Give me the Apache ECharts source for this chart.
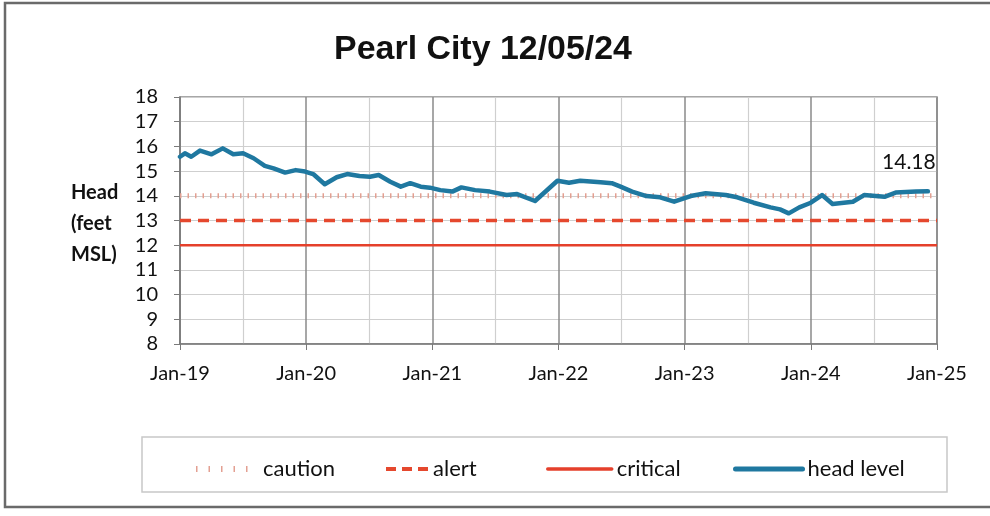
<!DOCTYPE html>
<html>
<head>
<meta charset="utf-8">
<script src="https://cdn.jsdelivr.net/npm/echarts@6/dist/echarts.min.js"></script>
<style>
  html, body { margin: 0; padding: 0; background: #fff; }
  #main { width: 990px; height: 516px; }
</style>
</head>
<body>
<div id="main"></div>
<script>
var dom = document.getElementById("main");
var chart = echarts.init(dom);

// readings taken off the scanned chart
var dates = [
  "2019-01-01", "2019-01-15", "2019-02-03", "2019-02-28", "2019-04-01", "2019-05-03",
  "2019-06-03", "2019-07-01", "2019-08-01", "2019-09-03", "2019-09-28", "2019-11-01",
  "2019-12-01", "2019-12-28", "2020-01-21", "2020-02-24", "2020-03-28", "2020-04-28",
  "2020-06-03", "2020-07-03", "2020-07-28", "2020-09-01", "2020-10-01", "2020-10-28",
  "2020-11-28", "2020-12-24", "2021-01-24", "2021-02-28", "2021-03-24", "2021-05-03",
  "2021-06-15", "2021-08-03", "2021-09-03", "2021-10-24", "2021-12-28", "2022-02-01",
  "2022-03-03", "2022-05-01", "2022-06-03", "2022-06-28", "2022-08-01", "2022-09-12",
  "2022-10-21", "2022-12-01", "2023-01-18", "2023-03-01", "2023-04-28", "2023-06-01",
  "2023-07-18", "2023-09-06", "2023-10-03", "2023-10-28", "2023-11-28", "2024-01-01",
  "2024-02-03", "2024-03-03", "2024-05-01", "2024-06-03", "2024-08-01", "2024-09-03",
  "2024-11-01", "2024-12-05"
];
var headLevel = [
  15.58, 15.72, 15.58, 15.83, 15.68, 15.92,
  15.68, 15.72, 15.52, 15.21, 15.11, 14.94,
  15.04, 14.98, 14.88, 14.47, 14.75, 14.88,
  14.80, 14.77, 14.84, 14.57, 14.37, 14.51,
  14.37, 14.33, 14.23, 14.17, 14.34, 14.23,
  14.17, 14.03, 14.07, 13.79, 14.61, 14.53,
  14.61, 14.55, 14.51, 14.37, 14.17, 13.99,
  13.94, 13.76, 13.99, 14.10, 14.03, 13.94,
  13.72, 13.53, 13.45, 13.29, 13.53, 13.72,
  14.03, 13.67, 13.76, 14.03, 13.96, 14.13,
  14.17, 14.18
];
var cautionLevel = 14;
var alertLevel = 13;
var criticalLevel = 12;
var yearLabels = ["Jan-19", "Jan-20", "Jan-21", "Jan-22", "Jan-23", "Jan-24", "Jan-25"];

// months since Jan 2019, so the x axis can tick every year / half year
function toMonths(s) {
  var p = s.split("-");
  return (Number(p[0]) - 2019) * 12 + (Number(p[1]) - 1) + (Number(p[2]) - 1) / 30;
}

var headData = dates.map(function (d, i) {
  return [toMonths(d), headLevel[i]];
});

function flat(v) {
  return [[0, v], [72, v]];
}

var font = "Lato";

// one legend per entry so each sits where the original put it
var legendSpec = [
  { name: "caution", left: 188, w: 62, lw: 6, type: [1.5, 11], cap: "butt" },
  { name: "alert", left: 379, w: 42, lw: 4, type: [10, 6], cap: "butt" },
  { name: "critical", left: 541, w: 64, lw: 3.5, type: "solid", cap: "round" },
  { name: "head level", left: 728, w: 67, lw: 5, type: "solid", cap: "round" }
];
var legends = legendSpec.map(function (s) {
  return {
    data: [s.name],
    left: s.left,
    top: 453,
    itemWidth: s.w,
    itemHeight: 14,
    itemGap: 4,
    itemStyle: { opacity: 0 },
    lineStyle: { width: s.lw, type: s.type, cap: s.cap },
    textStyle: { fontFamily: font, fontSize: 22, color: "#111" }
  };
});

chart.setOption({
  animation: false,
  grid: {
    left: 180,
    right: 53,
    top: 97,
    bottom: 172,
    show: true,
    borderColor: "#8a8a8a",
    borderWidth: 1.5
  },
  xAxis: {
    type: "value",
    min: 0,
    max: 72,
    interval: 12,
    axisLine: { lineStyle: { color: "#7a7a7a", width: 1.5 } },
    axisTick: { show: true, length: 6, lineStyle: { color: "#7a7a7a" } },
    axisLabel: {
      margin: 20,
      fontFamily: font,
      fontSize: 20,
      color: "#111",
      formatter: function (v) { return yearLabels[v / 12]; }
    },
    splitLine: { show: true, lineStyle: { color: "#8a8a8a", width: 1.5 } },
    minorTick: { show: false, splitNumber: 2 },
    minorSplitLine: { show: true, lineStyle: { color: "#cfcfcf", width: 1.2 } }
  },
  yAxis: {
    type: "value",
    min: 8,
    max: 18,
    interval: 1,
    axisLine: { show: true, lineStyle: { color: "#7a7a7a", width: 1.5 } },
    axisTick: { show: true, length: 6, lineStyle: { color: "#7a7a7a" } },
    axisLabel: { margin: 22, fontFamily: font, fontSize: 20, color: "#111" },
    splitLine: { show: true, lineStyle: { color: "#cfcfcf", width: 1.2 } }
  },
  legend: legends,
  graphic: [
    // scanned page frame: top, left and bottom edges
    {
      type: "polyline",
      shape: { points: [[990, 3], [5, 3], [5, 507], [990, 507]] },
      style: { fill: "none", stroke: "#6a6a6a", lineWidth: 2.5 },
      silent: true
    },
    {
      type: "rect",
      shape: { x: 142, y: 437, width: 805, height: 55 },
      style: { fill: "none", stroke: "#c8c8c8", lineWidth: 1.5 },
      silent: true
    },
    {
      type: "text",
      x: 483,
      y: 50,
      scaleX: 1.13,
      scaleY: 1.08,
      style: {
        text: "Pearl City 12/05/24",
        fontFamily: "Liberation Sans",
        fontWeight: "bold",
        fontSize: 30,
        fill: "#111",
        align: "center",
        verticalAlign: "middle"
      },
      silent: true
    },
    {
      type: "text",
      left: 71,
      top: 177,
      style: {
        text: "Head\n(feet\nMSL)",
        fontFamily: font,
        fontWeight: "bold",
        fontSize: 20,
        lineHeight: 31,
        fill: "#111",
        align: "left"
      },
      silent: true
    }
  ],
  series: [
    {
      name: "caution",
      type: "line",
      data: flat(cautionLevel),
      symbol: "none",
      z: 2,
      color: "#e3a092",
      lineStyle: { color: "#e3a092", width: 5, type: [1.5, 6] }
    },
    {
      name: "alert",
      type: "line",
      data: flat(alertLevel),
      symbol: "none",
      z: 3,
      color: "#e5482e",
      lineStyle: { color: "#e5482e", width: 3.5, type: [11, 7] }
    },
    {
      name: "critical",
      type: "line",
      data: flat(criticalLevel),
      symbol: "none",
      z: 3,
      color: "#e5402b",
      lineStyle: { color: "#e5402b", width: 2.5 }
    },
    {
      name: "head level",
      type: "line",
      data: headData,
      symbol: "none",
      z: 4,
      color: "#1f78a0",
      lineStyle: { color: "#1f78a0", width: 4.5, cap: "round", join: "round" },
      endLabel: {
        show: true,
        distance: 0,
        align: "center",
        verticalAlign: "middle",
        offset: [-19, -29],
        formatter: function (p) { return p.value[1].toFixed(2); },
        fontFamily: font,
        fontSize: 21,
        color: "#111"
      }
    }
  ]
});
</script>
</body>
</html>
